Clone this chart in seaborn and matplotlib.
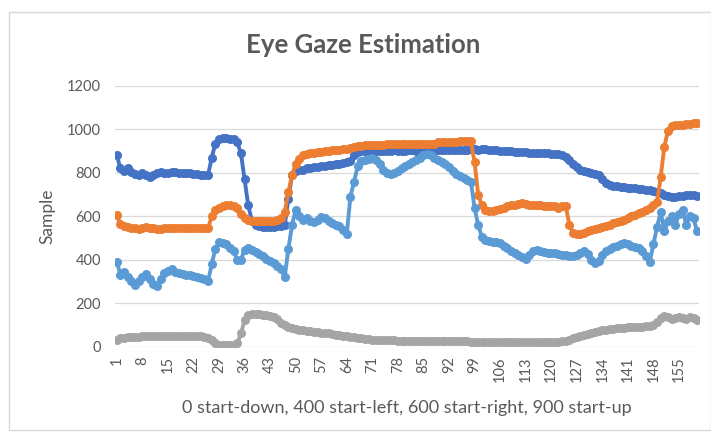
import numpy as np
import pandas as pd
import matplotlib
matplotlib.use("Agg")
import matplotlib.pyplot as plt
from matplotlib.patches import Rectangle
import seaborn as sns

# Gaze samples per frame for four start directions
dark_blue = [880, 820, 810, 820, 805, 795, 790, 800, 790, 780,
             790, 800, 805, 800, 800, 805, 805, 800, 800, 800,
             800, 795, 795, 790, 790, 790, 870, 935, 955, 960,
             960, 955, 955, 940, 890, 770, 650, 580, 560, 555,
             550, 550, 550, 550, 555, 555, 560, 680, 790, 810,
             815, 815, 820, 820, 825, 825, 830, 830, 835, 835,
             840, 840, 845, 850, 855, 880, 895, 900, 900, 900,
             900, 900, 900, 900, 900, 900, 905, 900, 900, 900,
             905, 905, 900, 900, 905, 905, 900, 900, 905, 905,
             905, 905, 905, 905, 905, 905, 905, 910, 910, 905,
             910, 910, 905, 905, 905, 900, 900, 900, 900, 895,
             895, 895, 895, 890, 890, 890, 890, 890, 890, 885,
             885, 885, 880, 875, 860, 840, 825, 815, 810, 805,
             800, 795, 790, 770, 755, 745, 740, 740, 735, 735,
             730, 730, 730, 725, 725, 720, 720, 715, 710, 705,
             700, 695, 690, 690, 695, 695, 700, 700, 700, 695]

orange = [605, 565, 555, 550, 545, 545, 540, 545, 550, 545,
          545, 540, 540, 545, 545, 545, 545, 545, 545, 545,
          545, 545, 545, 545, 545, 545, 600, 630, 640, 645,
          650, 650, 645, 640, 610, 590, 585, 580, 580, 580,
          580, 580, 580, 580, 585, 590, 620, 710, 790, 840,
          865, 880, 885, 890, 890, 895, 895, 900, 900, 905,
          905, 905, 910, 910, 915, 920, 925, 925, 930, 930,
          930, 930, 930, 930, 935, 935, 935, 935, 935, 935,
          935, 935, 935, 935, 935, 935, 935, 935, 940, 940,
          940, 940, 940, 940, 945, 945, 945, 945, 850, 700,
          650, 630, 625, 625, 630, 635, 640, 645, 650, 650,
          655, 660, 655, 650, 650, 650, 650, 645, 645, 645,
          645, 640, 645, 645, 560, 525, 520, 520, 525, 530,
          535, 540, 545, 550, 555, 560, 570, 575, 580, 585,
          590, 600, 605, 615, 620, 630, 640, 650, 665, 780,
          920, 995, 1015, 1020, 1020, 1020, 1025, 1025, 1030, 1030]

light_blue = [390, 330, 345, 320, 300, 285, 300, 320, 335, 310,
              290, 280, 310, 340, 350, 355, 345, 340, 335, 330,
              330, 325, 320, 315, 310, 300, 380, 450, 480, 475,
              470, 455, 440, 400, 400, 445, 455, 445, 435, 425,
              415, 405, 395, 385, 370, 355, 320, 450, 560, 630,
              600, 585, 590, 580, 575, 585, 595, 590, 580, 570,
              560, 555, 535, 520, 690, 760, 830, 855, 860, 865,
              870, 860, 840, 815, 800, 795, 800, 810, 820, 830,
              840, 850, 860, 870, 880, 885, 880, 870, 860, 850,
              840, 825, 810, 795, 785, 775, 765, 760, 640, 560,
              505, 490, 485, 480, 480, 475, 465, 455, 440, 430,
              420, 410, 405, 420, 440, 445, 440, 435, 430, 430,
              430, 425, 420, 420, 415, 415, 420, 430, 440, 425,
              400, 385, 395, 420, 440, 450, 460, 465, 470, 475,
              470, 465, 460, 455, 440, 415, 390, 470, 550, 620,
              530, 580, 600, 560, 610, 630, 560, 600, 590, 530]

gray = [30, 40, 40, 45, 45, 45, 45, 50, 50, 50,
        50, 50, 50, 50, 50, 50, 50, 50, 50, 50,
        50, 50, 50, 50, 45, 40, 30, 15, 8, 5,
        5, 5, 8, 15, 60, 120, 145, 150, 150, 148,
        145, 145, 140, 135, 125, 110, 100, 90, 85, 80,
        78, 75, 72, 70, 68, 66, 64, 62, 60, 58,
        55, 52, 50, 48, 45, 42, 40, 38, 36, 34,
        32, 30, 30, 28, 28, 28, 28, 27, 27, 27,
        27, 27, 27, 26, 26, 26, 26, 25, 25, 25,
        25, 25, 25, 25, 25, 24, 24, 23, 22, 22,
        22, 22, 22, 22, 22, 22, 22, 22, 22, 22,
        22, 22, 22, 22, 22, 22, 22, 22, 22, 22,
        22, 22, 24, 26, 32, 40, 46, 50, 55, 58,
        62, 66, 70, 74, 78, 80, 82, 84, 86, 86,
        88, 88, 90, 90, 92, 94, 96, 100, 115, 130,
        140, 135, 125, 130, 135, 132, 128, 135, 130, 120]

series_names = ["Series1", "Series2", "Series3", "Series4"]
series_colors = ["#4472C4", "#ED7D31", "#5B9BD5", "#A5A5A5"]
x_ticks = list(range(1, 161, 7))
y_ticks = [0, 200, 400, 600, 800, 1000, 1200]

title = "Eye Gaze Estimation"
x_title = "0 start-down, 400 start-left, 600 start-right, 900 start-up"
y_title = "Sample"

n = len(dark_blue)
frames = np.arange(1, n + 1)
df = pd.concat([
    pd.DataFrame({"frame": frames, "value": vals, "series": name})
    for name, vals in zip(series_names, [dark_blue, orange, light_blue, gray])
], ignore_index=True)

sns.set_theme(style="white")
plt.rcParams["font.family"] = ["Lato", "DejaVu Sans"]
text_col = "#595959"

W, H = 711, 436
fig = plt.figure(figsize=(W / 100, H / 100), dpi=100)
left, right, top, bottom = 115, 699, 86, 346.5
ax = fig.add_axes([left / W, 1 - bottom / H, (right - left) / W, (bottom - top) / H])

# chart-area border
fig.patches.append(Rectangle((9 / W, 1 - 430 / H), 702 / W, 418 / H,
                             transform=fig.transFigure, fill=False,
                             edgecolor="#d9d9d9", linewidth=1.0))

for yv in y_ticks:
    ax.axhline(yv, color="#d9d9d9", linewidth=0.9, zorder=0)

sns.lineplot(data=df, x="frame", y="value", hue="series",
             palette=dict(zip(series_names, series_colors)),
             marker="o", markersize=6.5, markeredgewidth=0,
             linewidth=2.8, legend=False, ax=ax, zorder=3)

ax.set_xlim(0.5, n + 0.5)
ax.set_ylim(0, 1200)
ax.set_xticks(x_ticks)
ax.set_xticklabels([str(t) for t in x_ticks], rotation=90, fontsize=10.5, color=text_col)
ax.set_yticks(y_ticks)
ax.set_yticklabels([str(t) for t in y_ticks], fontsize=10.5, color=text_col)
ax.tick_params(axis="x", length=0, pad=7)
ax.tick_params(axis="y", length=0, pad=10)
for s in ax.spines.values():
    s.set_visible(False)
ax.grid(False)

ax.set_xlabel(x_title, fontsize=13, color=text_col)
ax.xaxis.set_label_coords(0.5, (bottom - 408) / (bottom - top))
ax.xaxis.label.set_va("center")
ax.set_ylabel(y_title, fontsize=12.5, color=text_col)
ax.yaxis.set_label_coords((47 - left) / (right - left), 0.5)
ax.yaxis.label.set_va("center")

fig.text(363 / W, 1 - 45 / H, title, ha="center", va="center",
         fontsize=18.5, fontweight="bold", color=text_col)

fig.savefig("out.png", dpi=100)
